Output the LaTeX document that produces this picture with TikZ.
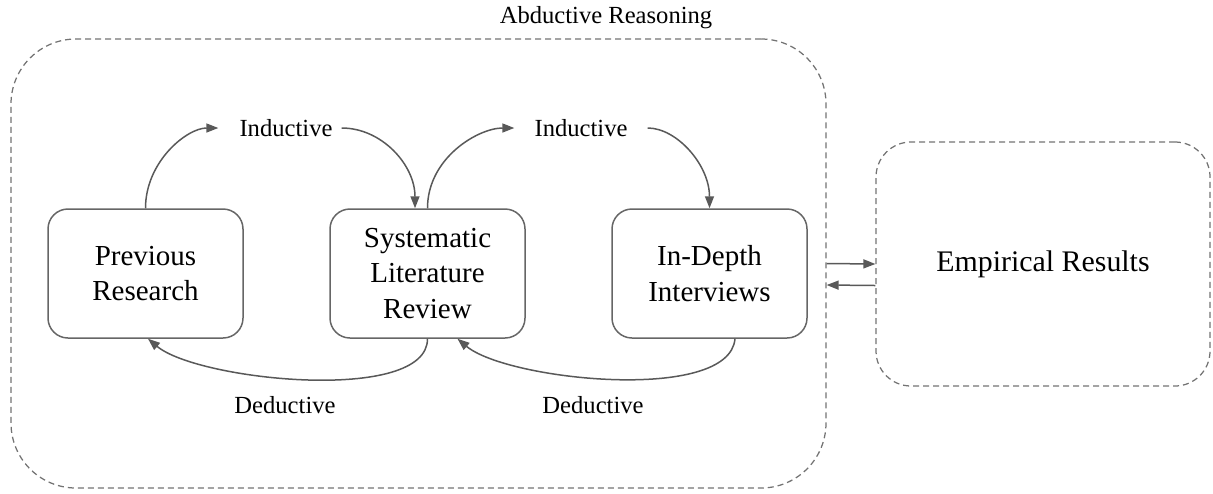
\documentclass[tikz,border=0pt]{standalone}
\usepackage{fontspec}
\setmainfont{Liberation Serif}
\usetikzlibrary{arrows.meta}

\begin{document}
\begin{tikzpicture}[
    box/.style={draw=black!60, line width=0.03cm, rounded corners=0.4cm, align=center,
      minimum width=3.9cm, minimum height=2.58cm, font=\fontsize{16.5}{20}\selectfont},
    dbox/.style={draw=black!55, line width=0.025cm, dash pattern=on 0.12cm off 0.08cm},
    lbl/.style={font=\fontsize{14}{17}\selectfont},
    arr/.style={draw=black!65, line width=0.03cm, -{Triangle[length=0.24cm,width=0.18cm]}}
  ]
  \useasboundingbox (0,0) rectangle (24.26,-9.86);
  % dashed frames: abductive reasoning and empirical results
  \node[dbox, rounded corners=1.3cm, minimum width=16.3cm, minimum height=8.98cm] (abd) at (8.37,-5.27) {};
  \node[lbl] (abdlabel) at (12.12,-0.36) {Abductive Reasoning};
  \node[dbox, rounded corners=0.7cm, minimum width=6.68cm, minimum height=4.88cm,
    font=\fontsize{17}{20}\selectfont] (er) at (20.86,-5.28) {Empirical Results};
  % the three stages
  \node[box] (pr) at (2.91,-5.47) {Previous\\Research};
  \node[box] (slr) at (8.55,-5.47) {Systematic\\Literature\\Review};
  \node[box] (idi) at (14.19,-5.47) {In-Depth\\Interviews};
  % arrow labels
  \node[lbl] (ind1) at (5.72,-2.56) {Inductive};
  \node[lbl] (ind2) at (11.62,-2.56) {Inductive};
  \node[lbl] (ded1) at (5.70,-8.10) {Deductive};
  \node[lbl] (ded2) at (11.86,-8.10) {Deductive};
  % inductive arrows over the top
  \draw[arr, shorten >=0.3cm] (pr.north) to[out=90,in=180] (ind1.west);
  \draw[arr, shorten <=0.06cm] (ind1.east) to[out=0,in=90] ([xshift=-0.25cm]slr.north);
  \draw[arr, shorten >=0.28cm] (slr.north) to[out=90,in=180] (ind2.west);
  \draw[arr, shorten <=0.28cm] (ind2.east) to[out=0,in=90] (idi.north);
  % deductive arrows underneath
  \draw[arr] (slr.south) to[out=-90,in=-40,looseness=0.6] ([xshift=0.05cm]pr.south);
  \draw[arr] ([xshift=0.51cm]idi.south) to[out=-95,in=-40,looseness=0.6] ([xshift=0.6cm]slr.south);
  % exchange with the empirical results
  \draw[arr] (abd.east) -- (er.west);
  \draw[arr] ([yshift=-0.43cm]er.west) -- ([yshift=-0.43cm]abd.east);
\end{tikzpicture}
\end{document}
